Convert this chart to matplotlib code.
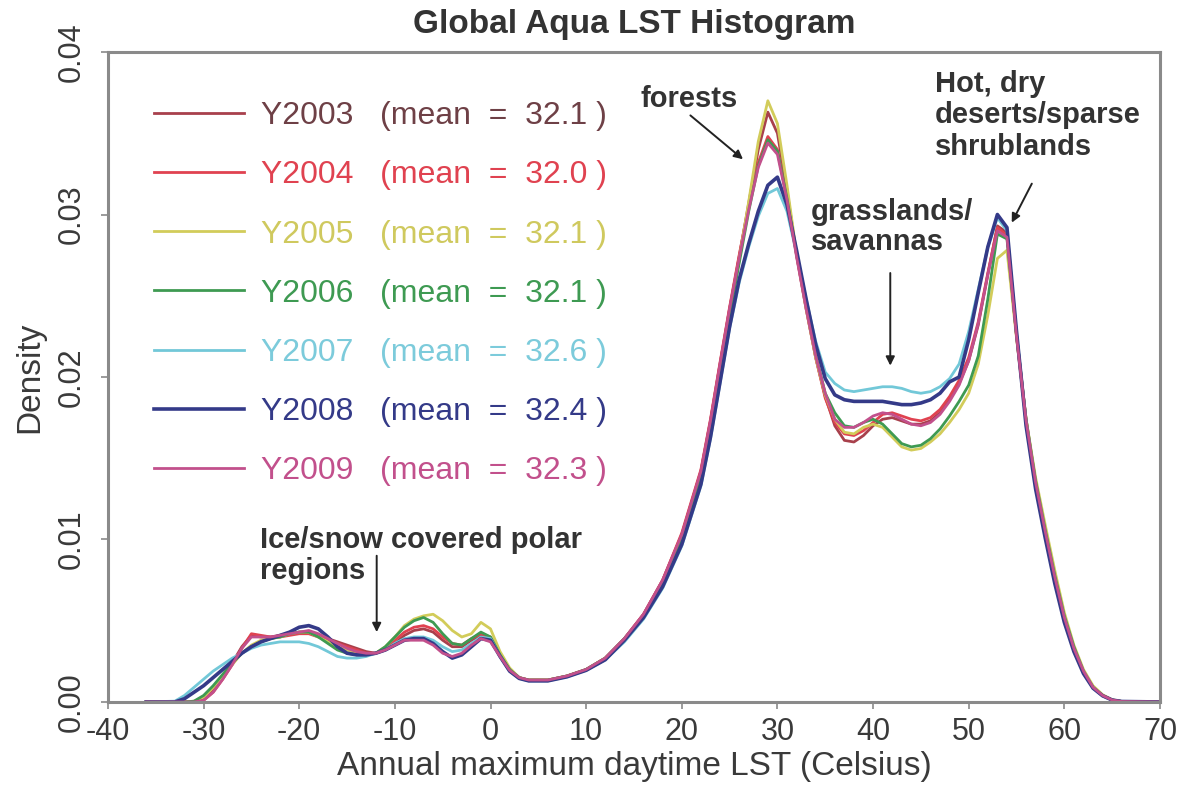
import numpy as np
import matplotlib
matplotlib.use("Agg")
import matplotlib.pyplot as plt

plt.rcParams['font.family'] = ['Liberation Sans', 'DejaVu Sans']
plt.rcParams['axes.unicode_minus'] = False

# temperature grid (Celsius) shared by every year
lst = [-36, -33, -32, -31, -30, -29, -28, -27, -26, -25, -24, -23, -22, -21, -20,
       -19, -18, -17, -16, -15, -14, -13, -12, -11, -10, -9, -8, -7, -6, -5, -4,
       -3, -2, -1, 0,
       1, 2, 3, 4,
       6, 8, 10, 12, 14, 16, 18, 20, 22,
       23, 24, 25, 26, 27, 28, 29, 30, 31, 32, 33, 34, 35,
       36, 37, 38, 39, 40, 41, 42, 43, 44, 45, 46, 47, 48, 49,
       50, 51, 52, 53, 54, 55, 56, 57, 58, 59, 60, 61, 62, 63, 64, 65, 66,
       70]

years = [2003, 2004, 2005, 2006, 2007, 2008, 2009]
means = [32.1, 32.0, 32.1, 32.1, 32.6, 32.4, 32.3]
colors = ['#a8404c', '#e04250', '#d2cc5a', '#3e9a52', '#72c8d8', '#343a88', '#c2508c']
text_colors = ['#6e4046', '#e04250', '#cfc95e', '#3e9a52', '#7ccbdb', '#343a88', '#c2508c']

# density values in units of 1e-3
d2003 = [0, 0, 0, 0, 0.15, 0.7, 1.5, 2.4, 3.4, 4.1, 4.0, 4.0, 4.1, 4.2, 4.3,
         4.3, 4.1, 3.9, 3.7, 3.5, 3.3, 3.1, 3.0, 3.2, 3.6, 4.1, 4.4, 4.5, 4.3, 3.8, 3.4,
         3.4, 3.8, 4.1, 3.9,
         2.8, 2.0, 1.5, 1.35,
         1.35, 1.6, 2.0, 2.7, 3.9, 5.4, 7.5, 10.3, 14.2,
         17.3, 20.8, 24.2, 27.4, 30.7, 34.0, 36.3, 35.0, 31.5, 27.5, 24.2, 21.2, 18.8,
         17.0, 16.1, 16.0, 16.4, 17.0, 17.4, 17.5, 17.3, 17.1, 17.1, 17.3, 17.8, 18.6, 19.6,
         21.0, 23.2, 26.3, 29.3, 28.9, 22.6, 17.4, 13.5, 10.5, 7.7, 5.2, 3.3, 1.9, 0.9, 0.4, 0.12, 0.03,
         0]
d2004 = [0, 0, 0, 0, 0.1, 0.6, 1.4, 2.3, 3.3, 4.2, 4.1, 4.0, 4.0, 4.1, 4.2,
         4.2, 4.0, 3.8, 3.6, 3.4, 3.2, 3.0, 3.0, 3.3, 3.8, 4.3, 4.6, 4.7, 4.5, 4.0, 3.6,
         3.5, 3.9, 4.2, 4.0,
         2.9, 2.0, 1.5, 1.35,
         1.35, 1.6, 2.0, 2.7, 3.9, 5.4, 7.5, 10.4, 14.3,
         17.4, 20.9, 24.3, 27.5, 30.5, 33.2, 34.8, 34.0, 31.0, 27.5, 24.3, 21.2, 18.7,
         17.2, 16.5, 16.4, 16.7, 17.2, 17.7, 17.8, 17.6, 17.4, 17.3, 17.5, 18.0, 18.8, 19.8,
         21.2, 23.4, 26.4, 29.2, 28.7, 22.5, 17.3, 13.4, 10.4, 7.6, 5.2, 3.3, 1.9, 0.9, 0.4, 0.12, 0.03,
         0]
d2005 = [0, 0, 0, 0.05, 0.3, 0.9, 1.6, 2.3, 3.0, 3.5, 3.8, 3.9, 4.0, 4.2, 4.3,
         4.3, 4.0, 3.7, 3.4, 3.2, 3.0, 2.9, 3.0, 3.4, 4.0, 4.7, 5.1, 5.3, 5.4, 5.0, 4.4,
         4.0, 4.2, 4.9, 4.5,
         3.1, 2.1, 1.5, 1.35,
         1.35, 1.6, 2.0, 2.7, 3.8, 5.3, 7.3, 10.0, 13.8,
         16.9, 20.4, 23.9, 27.2, 30.8, 34.5, 37.0, 35.6, 31.8, 27.6, 24.2, 21.2, 18.9,
         17.4, 16.6, 16.5, 16.9, 17.1, 16.9, 16.3, 15.7, 15.5, 15.6, 16.0, 16.5, 17.2, 18.0,
         19.0, 20.8, 23.8, 27.3, 27.8, 22.4, 17.4, 13.8, 10.9, 8.1, 5.5, 3.5, 2.0, 1.0, 0.45, 0.14, 0.03,
         0]
d2006 = [0, 0, 0, 0.05, 0.4, 1.0, 1.7, 2.4, 3.0, 3.4, 3.7, 3.9, 4.0, 4.2, 4.3,
         4.3, 4.0, 3.6, 3.2, 3.0, 2.9, 2.9, 3.0, 3.4, 4.0, 4.6, 5.0, 5.2, 4.9, 4.2, 3.6,
         3.5, 3.9, 4.3, 4.0,
         2.9, 2.0, 1.5, 1.35,
         1.35, 1.6, 2.0, 2.7, 3.9, 5.3, 7.3, 10.0, 13.8,
         16.8, 20.3, 23.8, 27.0, 30.2, 33.0, 34.6, 33.9, 31.0, 27.6, 24.4, 21.4, 19.0,
         17.8, 17.0, 16.9, 17.2, 17.4, 17.1, 16.5, 15.9, 15.7, 15.8, 16.2, 16.8, 17.6, 18.5,
         19.5, 21.3, 24.8, 28.8, 28.5, 22.6, 17.4, 13.6, 10.6, 7.8, 5.3, 3.4, 1.9, 0.9, 0.4, 0.12, 0.03,
         0]
d2007 = [0, 0.05, 0.4, 0.9, 1.4, 1.9, 2.3, 2.7, 3.0, 3.3, 3.5, 3.6, 3.7, 3.7, 3.7,
         3.6, 3.4, 3.1, 2.8, 2.7, 2.7, 2.8, 3.0, 3.2, 3.6, 3.9, 4.0, 4.0, 3.8, 3.4, 3.1,
         3.2, 3.6, 4.0, 3.9,
         2.8, 1.9, 1.45, 1.3,
         1.3, 1.55, 1.95, 2.6, 3.7, 5.1, 7.0, 9.6, 13.3,
         16.2, 19.6, 23.0, 25.8, 28.0, 29.9, 31.3, 31.6, 30.2, 27.6, 24.8, 22.2, 20.3,
         19.6, 19.2, 19.1, 19.2, 19.3, 19.4, 19.4, 19.3, 19.1, 19.0, 19.1, 19.4, 19.9, 20.8,
         22.8, 25.4, 28.0, 29.8, 29.0, 22.7, 17.2, 13.3, 10.3, 7.5, 5.1, 3.2, 1.8, 0.85, 0.38, 0.12, 0.03,
         0]
d2008 = [0, 0, 0.2, 0.6, 1.0, 1.5, 2.0, 2.5, 3.0, 3.4, 3.7, 3.9, 4.1, 4.3, 4.6,
         4.7, 4.5, 4.0, 3.4, 3.0, 2.9, 2.9, 3.0, 3.2, 3.5, 3.8, 3.9, 3.9, 3.6, 3.1, 2.7,
         2.9, 3.4, 3.9, 3.8,
         2.8, 1.9, 1.45, 1.3,
         1.3, 1.55, 1.95, 2.6, 3.8, 5.2, 7.1, 9.7, 13.4,
         16.3, 19.7, 23.1, 26.0, 28.2, 30.2, 31.8, 32.3, 30.6, 27.8, 24.8, 22.0, 19.9,
         18.9, 18.6, 18.5, 18.5, 18.5, 18.5, 18.4, 18.3, 18.3, 18.4, 18.6, 19.0, 19.7, 20.0,
         22.3, 25.2, 28.0, 30.0, 29.2, 22.8, 17.0, 13.1, 10.1, 7.3, 4.9, 3.1, 1.75, 0.85, 0.38, 0.12, 0.03,
         0]
d2009 = [0, 0, 0, 0, 0.1, 0.6, 1.4, 2.3, 3.3, 4.0, 4.0, 4.0, 4.1, 4.2, 4.3,
         4.4, 4.2, 3.9, 3.6, 3.3, 3.1, 3.0, 3.0, 3.2, 3.5, 3.8, 3.8, 3.8, 3.5, 3.0, 2.8,
         3.0, 3.5, 3.9, 3.7,
         2.8, 1.95, 1.5, 1.35,
         1.35, 1.6, 2.0, 2.7, 3.9, 5.4, 7.5, 10.3, 14.2,
         17.3, 20.8, 24.2, 27.3, 30.3, 32.9, 34.4, 33.7, 30.9, 27.4, 24.2, 21.3, 19.0,
         17.4, 16.9, 16.9, 17.2, 17.6, 17.8, 17.7, 17.4, 17.1, 17.0, 17.2, 17.7, 18.5, 19.5,
         21.0, 23.3, 26.3, 29.0, 28.6, 22.5, 17.3, 13.5, 10.5, 7.7, 5.2, 3.3, 1.9, 0.9, 0.4, 0.12, 0.03,
         0]

densities = [d2003, d2004, d2005, d2006, d2007, d2008, d2009]

fig = plt.figure(figsize=(11.81, 7.86), dpi=100)
ax = fig.add_axes([0.0914, 0.1069, 0.8908, 0.8269])

for yr, mu, col, d in zip(years, means, colors, densities):
    lw = 2.6 if yr == 2008 else 2.0
    ax.plot(lst, np.array(d) / 1000.0, color=col, lw=lw,
            label=f"Y{yr}   (mean  =  {mu} )")

ax.set_xlim(-40, 70)
ax.set_ylim(0, 0.04)
ax.set_xticks(range(-40, 71, 10))
ax.set_yticks([0.0, 0.01, 0.02, 0.03, 0.04])
ax.set_yticklabels(['0.00', '0.01', '0.02', '0.03', '0.04'])

for s in ax.spines.values():
    s.set_color('#8a8a8a')
    s.set_linewidth(2.2)
ax.tick_params(colors='#8a8a8a', length=5, width=1.2, labelcolor='#3a3a3a',
               labelsize=22)
ax.tick_params(axis='x', pad=6)
ax.tick_params(axis='y', pad=10)
plt.setp(ax.get_yticklabels(), rotation=90, va='center', ha='right')

ax.set_xlabel('Annual maximum daytime LST (Celsius)', fontsize=24, color='#3a3a3a')
ax.set_ylabel('Density', fontsize=24, color='#3a3a3a')
ax.xaxis.set_label_coords(0.5, -0.075)
ax.yaxis.set_label_coords(-0.074, 0.5)
ax.yaxis.label.set_va('center')
ax.xaxis.label.set_va('top')

fig.text(0.537, 1 - 24 / 786, 'Global Aqua LST Histogram', fontsize=24,
         fontweight='bold', color='#333333', ha='center', va='center')

leg = ax.legend(loc='upper left', bbox_to_anchor=(0.044, 0.924), frameon=False,
                fontsize=23, handlelength=2.8, handletextpad=0.55,
                labelspacing=0.91, borderpad=0, borderaxespad=0,
                labelcolor=text_colors)

# annotations for the land-cover peaks
note = dict(fontsize=21, fontweight='bold', color='#333333')
arrow = dict(arrowstyle='-|>', color='#222222', lw=1.4, mutation_scale=13,
             shrinkA=0, shrinkB=0)

ax.text(20.8, 0.0371, 'forests', ha='center', va='center', **note)
ax.annotate('', xy=(26.4, 0.0334), xytext=(20.9, 0.0361), arrowprops=arrow)

ax.text(46.5, 0.0389, 'Hot, dry\ndeserts/sparse\nshrublands', ha='left', va='top',
        linespacing=1.15, **note)
ax.annotate('', xy=(54.5, 0.0295), xytext=(56.6, 0.0319), arrowprops=arrow)

ax.text(33.5, 0.0310, 'grasslands/\nsavannas', ha='left', va='top',
        linespacing=1.1, **note)
ax.annotate('', xy=(41.8, 0.0207), xytext=(41.8, 0.0264), arrowprops=arrow)

ax.text(-24.1, 0.0108, 'Ice/snow covered polar\nregions', ha='left', va='top',
        linespacing=1.1, **note)
ax.annotate('', xy=(-11.9, 0.0043), xytext=(-11.9, 0.0090), arrowprops=arrow)

fig.savefig('out.png', dpi=100, facecolor='white')
